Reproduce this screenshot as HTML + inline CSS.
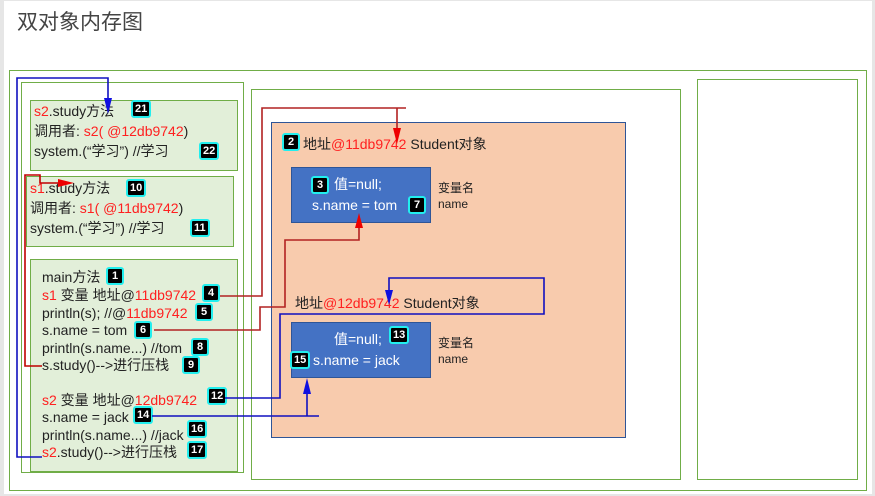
<!DOCTYPE html>
<html><head><meta charset="utf-8"><style>
body{margin:0;width:875px;height:496px;background:#e6e6e6;position:relative;overflow:hidden;font-family:"Liberation Sans","Noto Sans CJK SC",sans-serif;}
.a{position:absolute;box-sizing:border-box;}
.g{border:1.5px solid #70ad47;}
.lg{background:#e2efd9;border:1px solid #70ad47;}
.t{position:absolute;font-size:14px;color:#222;white-space:nowrap;line-height:17px;}
.r{color:#ff2020;}
.b{position:absolute;background:#000;color:#fff;border:2px solid #2ee;border-radius:3px;font:bold 11px "Liberation Sans",sans-serif;height:18px;min-width:18px;box-sizing:border-box;text-align:center;line-height:14px;padding:0 2px;}
.w{color:#fff;}
.s{position:absolute;font-size:12px;color:#222;line-height:16px;}
</style></head><body>
<div class="a" style="left:4px;top:1px;width:868px;height:493px;background:#fff"></div>
<div class="t" style="left:17px;top:10px;font-size:21px;line-height:26px;color:#444">双对象内存图</div>
<div class="a g" style="left:9px;top:70px;width:858px;height:421px"></div>
<div class="a g" style="left:21px;top:82px;width:223px;height:391px"></div>
<div class="a lg" style="left:30px;top:100px;width:208px;height:71px"></div>
<div class="a lg" style="left:26px;top:176px;width:208px;height:71px"></div>
<div class="a lg" style="left:30px;top:259px;width:208px;height:213px"></div>
<div class="a g" style="left:251px;top:89px;width:430px;height:391px"></div>
<div class="a g" style="left:697px;top:79px;width:161px;height:401px"></div>
<div class="a" style="left:271px;top:122px;width:355px;height:316px;background:#f8cbad;border:1px solid #2f5597"></div>
<div class="a" style="left:291px;top:167px;width:140px;height:56px;background:#4472c4;border:1px solid #2f5597"></div>
<div class="a" style="left:291px;top:322px;width:140px;height:56px;background:#4472c4;border:1px solid #2f5597"></div>

<div class="t" style="left:34px;top:103px"><span class="r">s2</span>.study方法</div>
<div class="t" style="left:34px;top:123px">调用者: <span class="r">s2( @12db9742</span>)</div>
<div class="t" style="left:34px;top:143px">system.(“学习”) //学习</div>
<div class="t" style="left:30px;top:180px"><span class="r">s1</span>.study方法</div>
<div class="t" style="left:30px;top:200px">调用者: <span class="r">s1( @11db9742</span>)</div>
<div class="t" style="left:30px;top:220px">system.(“学习”) //学习</div>

<div class="t" style="left:42px;top:269px">main方法</div>
<div class="t" style="left:42px;top:287px"><span class="r">s1</span> 变量 地址@<span class="r">11db9742</span></div>
<div class="t" style="left:42px;top:305px">println(s); //@<span class="r">11db9742</span></div>
<div class="t" style="left:42px;top:322px">s.name = tom</div>
<div class="t" style="left:42px;top:340px">println(s.name...) //tom</div>
<div class="t" style="left:42px;top:357px">s.study()-->进行压栈</div>
<div class="t" style="left:42px;top:392px"><span class="r">s2</span> 变量 地址@<span class="r">12db9742</span></div>
<div class="t" style="left:42px;top:409px">s.name = jack</div>
<div class="t" style="left:42px;top:427px">println(s.name...) //jack</div>
<div class="t" style="left:42px;top:444px"><span class="r">s2</span>.study()-->进行压栈</div>

<div class="t" style="left:303px;top:136px">地址<span class="r">@11db9742</span> Student对象</div>
<div class="t" style="left:295px;top:295px">地址<span class="r">@12db9742</span> Student对象</div>
<div class="t w" style="left:334px;top:176px">值=null;</div>
<div class="t w" style="left:312px;top:197px">s.name = tom</div>
<div class="t w" style="left:334px;top:331px">值=null;</div>
<div class="t w" style="left:313px;top:352px">s.name = jack</div>
<div class="s" style="left:438px;top:180px">变量名<br>name</div>
<div class="s" style="left:438px;top:335px">变量名<br>name</div>

<div class="b" style="left:131px;top:100px">21</div>
<div class="b" style="left:199px;top:142px">22</div>
<div class="b" style="left:126px;top:179px">10</div>
<div class="b" style="left:190px;top:219px">11</div>
<div class="b" style="left:106px;top:267px">1</div>
<div class="b" style="left:202px;top:284px">4</div>
<div class="b" style="left:195px;top:303px">5</div>
<div class="b" style="left:134px;top:321px">6</div>
<div class="b" style="left:191px;top:338px">8</div>
<div class="b" style="left:182px;top:356px">9</div>
<div class="b" style="left:207px;top:387px">12</div>
<div class="b" style="left:133px;top:406px">14</div>
<div class="b" style="left:187px;top:420px">16</div>
<div class="b" style="left:187px;top:441px">17</div>
<div class="b" style="left:282px;top:133px">2</div>
<div class="b" style="left:311px;top:176px">3</div>
<div class="b" style="left:408px;top:196px">7</div>
<div class="b" style="left:389px;top:326px">13</div>
<div class="b" style="left:290px;top:351px">15</div>

<svg class="a" style="left:0;top:0" width="875" height="496">
<g fill="none" stroke-width="1.6">
<polyline stroke="#b22222" points="220,296 262,296 262,108 406,108"/>
<line stroke="#b22222" x1="397" y1="108" x2="397" y2="130"/>
<polyline stroke="#b22222" points="154,330 260,330 260,307 285,307 285,240 359,240 359,225"/>
<polyline stroke="#c00000" points="42,366 25,366 25,175 40,175 40,183 60,183"/>
<polyline stroke="#1010c0" points="42,457 17,457 17,78 108,78 108,100"/>
<polyline stroke="#1010c0" points="225,398 280,398 280,314 544,314 544,278 389,278 389,292"/>
<line stroke="#1010c0" x1="152" y1="416" x2="319" y2="416"/>
<line stroke="#1010c0" x1="307" y1="416" x2="307" y2="392"/>
</g>
<polygon fill="#e00" points="393,128 401,128 397,144"/>
<polygon fill="#e00" points="355,228 363,228 359,213"/>
<polygon fill="#e00" points="58,179 58,187 74,183"/>
<polygon fill="#1010e0" points="104,98 112,98 108,114"/>
<polygon fill="#1010e0" points="385,290 393,290 389,305"/>
<polygon fill="#1010e0" points="303,394 311,394 307,378"/>
</svg>
</body></html>
